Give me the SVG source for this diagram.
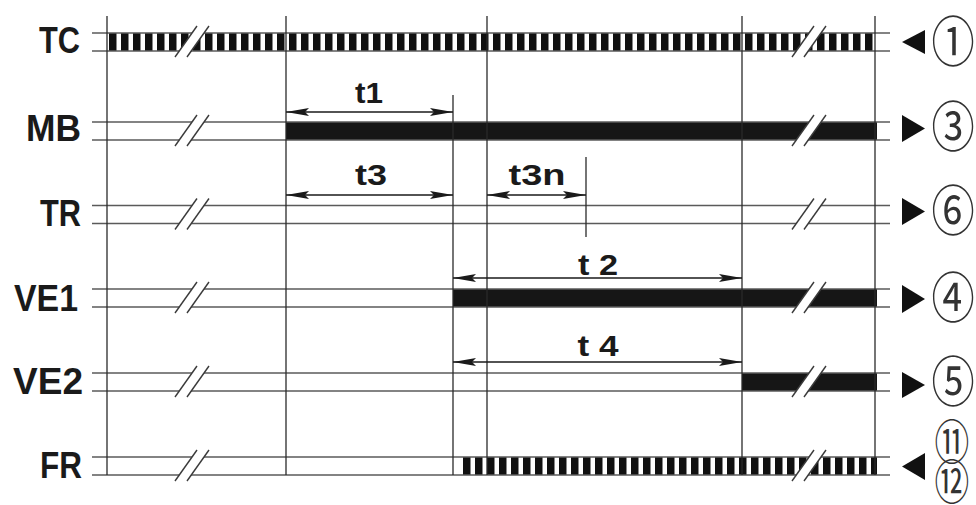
<svg xmlns="http://www.w3.org/2000/svg" width="976" height="505" viewBox="0 0 976 505">
<defs>
<style>
.sig{stroke:#5a5a5a;stroke-width:1.6;fill:none}
.vl{stroke:#2a2a2a;stroke-width:1.3;fill:none}
.bar{fill:#161616}
.brk{fill:#fff;stroke:none}
.sl{stroke:#3a3a3a;stroke-width:1.4;fill:none}
.lbl{font-family:"Liberation Sans",Arial,sans-serif;font-weight:bold;font-size:36px;fill:#1a1a1a}
.tl{font-family:"Liberation Sans",Arial,sans-serif;font-weight:bold;font-size:30px;fill:#1a1a1a;text-anchor:middle}
.dim{stroke:#1a1a1a;stroke-width:1.4;fill:none;marker-start:url(#ah);marker-end:url(#ah)}
.tri{fill:#111}
.cn{font-family:"Noto Sans CJK JP","DejaVu Sans",sans-serif;font-size:54px;fill:#333;text-anchor:middle}
.cs{font-family:"Noto Sans CJK JP","DejaVu Sans",sans-serif;font-size:47px;fill:#333;text-anchor:middle}
</style>
<marker id="ah" viewBox="0 0 23 8" refX="23" refY="4" markerWidth="23" markerHeight="8" markerUnits="userSpaceOnUse" orient="auto-start-reverse">
<path d="M0,0 L23,4 L0,8 L4,4 Z" fill="#1a1a1a"/>
</marker>
<pattern id="hTC" patternUnits="userSpaceOnUse" x="109" y="0" width="12" height="505">
<rect x="0" y="0" width="7.5" height="505" fill="#111"/>
</pattern>
<pattern id="hFR" patternUnits="userSpaceOnUse" x="463" y="0" width="12" height="505">
<rect x="0" y="0" width="7.5" height="505" fill="#111"/>
</pattern>
</defs>
<rect width="976" height="505" fill="#fff"/>

<g id="sig-TC">
<rect x="107" y="33" width="770" height="18" fill="url(#hTC)"/>
<line class="sig" x1="92" y1="33" x2="890" y2="33"/>
<line class="sig" x1="92" y1="51" x2="890" y2="51"/>
<polygon class="brk" points="175,57 197,26 209,26 187,57"/>
<polyline class="sl" points="175,57 197,26"/><polyline class="sl" points="187,57 209,26"/>
<polygon class="brk" points="792,57 814,26 826,26 804,57"/>
<polyline class="sl" points="792,57 814,26"/><polyline class="sl" points="804,57 826,26"/>
<text class="lbl" x="80" y="53" text-anchor="end" textLength="41" lengthAdjust="spacingAndGlyphs">TC</text>
<polygon class="tri" points="902,42 925,30 925,54"/>
<text class="cn" x="953" y="62" transform="translate(953,0) scale(0.8,1) translate(-953,0)">①</text>
</g>

<g id="sig-MB">
<rect class="bar" x="286" y="122" width="591" height="18"/>
<line class="sig" x1="92" y1="122" x2="890" y2="122"/>
<line class="sig" x1="92" y1="140" x2="890" y2="140"/>
<polygon class="brk" points="175,146 197,115 209,115 187,146"/>
<polyline class="sl" points="175,146 197,115"/><polyline class="sl" points="187,146 209,115"/>
<polygon class="brk" points="792,146 814,115 826,115 804,146"/>
<polyline class="sl" points="792,146 814,115"/><polyline class="sl" points="804,146 826,115"/>
<text class="lbl" x="81" y="141" text-anchor="end" textLength="55" lengthAdjust="spacingAndGlyphs">MB</text>
<polygon class="tri" points="902,115 925,128.5 902,142"/>
<text class="cn" x="953" y="147" transform="translate(953,0) scale(0.8,1) translate(-953,0)">③</text>
</g>

<g id="sig-TR">
<line class="sig" x1="92" y1="205.5" x2="890" y2="205.5"/>
<line class="sig" x1="92" y1="223.5" x2="890" y2="223.5"/>
<polygon class="brk" points="175,229.5 197,198.5 209,198.5 187,229.5"/>
<polyline class="sl" points="175,229.5 197,198.5"/><polyline class="sl" points="187,229.5 209,198.5"/>
<polygon class="brk" points="792,229.5 814,198.5 826,198.5 804,229.5"/>
<polyline class="sl" points="792,229.5 814,198.5"/><polyline class="sl" points="804,229.5 826,198.5"/>
<text class="lbl" x="81" y="226" text-anchor="end" textLength="41" lengthAdjust="spacingAndGlyphs">TR</text>
<polygon class="tri" points="902,198 925,211.5 902,225"/>
<text class="cn" x="953" y="231" transform="translate(953,0) scale(0.8,1) translate(-953,0)">⑥</text>
</g>

<g id="sig-VE1">
<rect class="bar" x="453" y="289" width="424" height="18"/>
<line class="sig" x1="92" y1="289" x2="890" y2="289"/>
<line class="sig" x1="92" y1="307" x2="890" y2="307"/>
<polygon class="brk" points="175,313 197,282 209,282 187,313"/>
<polyline class="sl" points="175,313 197,282"/><polyline class="sl" points="187,313 209,282"/>
<polygon class="brk" points="792,313 814,282 826,282 804,313"/>
<polyline class="sl" points="792,313 814,282"/><polyline class="sl" points="804,313 826,282"/>
<text class="lbl" x="78" y="311" text-anchor="end" textLength="64" lengthAdjust="spacingAndGlyphs">VE1</text>
<polygon class="tri" points="902,285 925,299 902,313"/>
<text class="cn" x="953" y="318" transform="translate(953,0) scale(0.8,1) translate(-953,0)">④</text>
</g>

<g id="sig-VE2">
<rect class="bar" x="742" y="373" width="135" height="18"/>
<line class="sig" x1="92" y1="373" x2="890" y2="373"/>
<line class="sig" x1="92" y1="391" x2="890" y2="391"/>
<polygon class="brk" points="175,397 197,366 209,366 187,397"/>
<polyline class="sl" points="175,397 197,366"/><polyline class="sl" points="187,397 209,366"/>
<polygon class="brk" points="792,397 814,366 826,366 804,397"/>
<polyline class="sl" points="792,397 814,366"/><polyline class="sl" points="804,397 826,366"/>
<text class="lbl" x="83" y="394" text-anchor="end" textLength="70" lengthAdjust="spacingAndGlyphs">VE2</text>
<polygon class="tri" points="902,372 925,385 902,398"/>
<text class="cn" x="953" y="402" transform="translate(953,0) scale(0.8,1) translate(-953,0)">⑤</text>
</g>

<g id="sig-FR">
<rect x="463" y="457" width="414" height="18" fill="url(#hFR)"/>
<line class="sig" x1="92" y1="457" x2="890" y2="457"/>
<line class="sig" x1="92" y1="475" x2="890" y2="475"/>
<polygon class="brk" points="175,481 197,450 209,450 187,481"/>
<polyline class="sl" points="175,481 197,450"/><polyline class="sl" points="187,481 209,450"/>
<polygon class="brk" points="792,481 814,450 826,450 804,481"/>
<polyline class="sl" points="792,481 814,450"/><polyline class="sl" points="804,481 826,450"/>
<text class="lbl" x="82" y="478" text-anchor="end" textLength="42" lengthAdjust="spacingAndGlyphs">FR</text>
<polygon class="tri" points="925,453 902,466.5 925,480"/>
<text class="cs" x="952" y="459" transform="translate(952,0) scale(0.74,1) translate(-952,0)">⑪</text>
<text class="cs" x="952" y="499" transform="translate(952,0) scale(0.74,1) translate(-952,0)">⑫</text>
</g>

<g id="connectors">
<line class="vl" x1="107" y1="16" x2="107" y2="475"/>
<line class="vl" x1="286" y1="16" x2="286" y2="475"/>
<line class="vl" x1="453" y1="95" x2="453" y2="475"/>
<line class="vl" x1="487" y1="16" x2="487" y2="475"/>
<line class="vl" x1="586" y1="157" x2="586" y2="237"/>
<line class="vl" x1="742" y1="16" x2="742" y2="475"/>
<line class="vl" x1="875" y1="16" x2="875" y2="475"/>
<line class="dim" x1="286" y1="112" x2="453" y2="112"/>
<line class="dim" x1="286" y1="195" x2="453" y2="195"/>
<line class="dim" x1="487" y1="195" x2="586" y2="195"/>
<line class="dim" x1="453" y1="278" x2="742" y2="278"/>
<line class="dim" x1="453" y1="362" x2="742" y2="362"/>
<text class="tl" x="369" y="103" textLength="28" lengthAdjust="spacingAndGlyphs">t1</text>
<text class="tl" x="371" y="185" textLength="32" lengthAdjust="spacingAndGlyphs">t3</text>
<text class="tl" x="537" y="185" textLength="57" lengthAdjust="spacingAndGlyphs">t3n</text>
<text class="tl" x="598" y="275" textLength="40" lengthAdjust="spacingAndGlyphs">t 2</text>
<text class="tl" x="598" y="356" textLength="41" lengthAdjust="spacingAndGlyphs">t 4</text>
</g>
</svg>
